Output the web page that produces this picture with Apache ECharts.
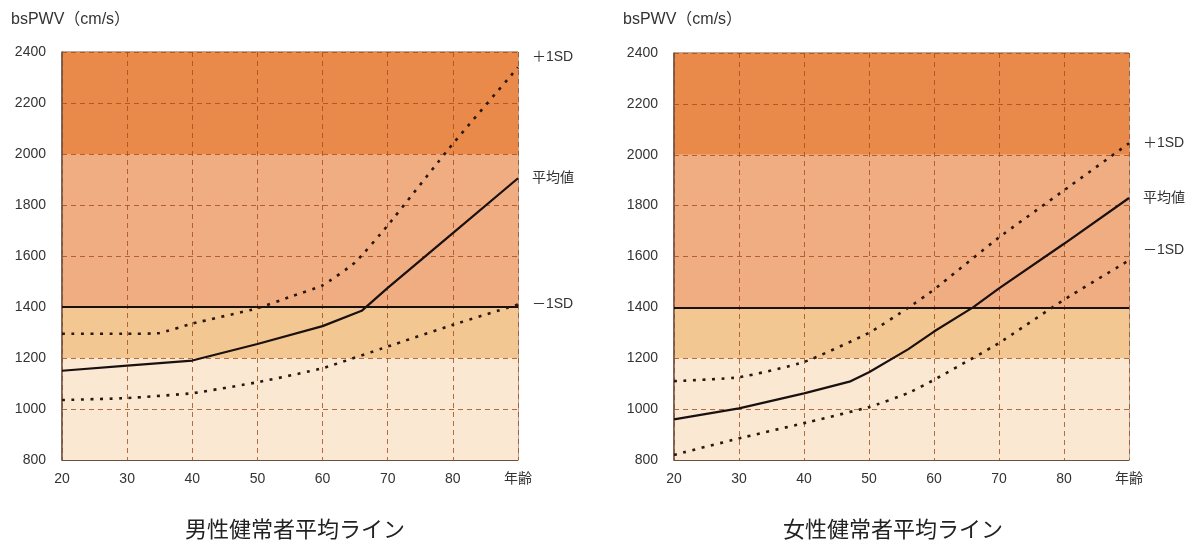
<!DOCTYPE html>
<html><head><meta charset="utf-8">
<script src="https://cdn.jsdelivr.net/npm/echarts@6/dist/echarts.min.js"></script>
<style>html,body{margin:0;padding:0;background:#fff}#c{width:1191px;height:544px}</style>
</head><body><div id="c"></div>
<script>
// ---- data ----
const yTicks = [800,1000,1200,1400,1600,1800,2000,2200,2400];
const xTicks = [20,30,40,50,60,70,80,90];
const xLastLabel = '年齢';
const yName = 'bsPWV（cm/s）';
const titles = ['男性健常者平均ライン','女性健常者平均ライン'];
const seriesNames = ['＋1SD','平均値','－1SD'];
const bands = [[800,1200],[1200,1400],[1400,2000],[2000,2400]];
const threshold = 1400;

const maleMeanAge = [20,30,40,50,60,66,70,80,90];
const maleMeanVal = [1150,1170,1190,1255,1325,1385,1475,1690,1905];
const maleP1Age = [20,30,35,40,50,55,60,65,70,80,90];
const maleP1Val = [1295,1295,1298,1335,1395,1440,1485,1575,1720,2040,2340];
const maleM1Age = [20,30,40,50,60,70,80,90];
const maleM1Val = [1035,1043,1062,1105,1160,1245,1330,1410];

const femMeanAge = [20,30,40,47,50,56,60,66,70,80,90];
const femMeanVal = [960,1003,1062,1108,1145,1235,1305,1400,1475,1650,1830];
const femP1Age = [20,30,40,50,56,60,70,80,90];
const femP1Val = [1110,1125,1185,1300,1398,1470,1675,1860,2045];
const femM1Age = [20,30,40,50,56,60,70,80,90];
const femM1Val = [820,885,945,1008,1063,1115,1260,1430,1585];

// ---- styles ----
const bandColors = ['#FAE8D2','#F3C792','#F0AD82','#E98A4A'];
const font = "'Liberation Sans','Noto Sans CJK JP',sans-serif";
const jpFont = "'Noto Sans CJK JP',sans-serif";
const zip = (a,b) => a.map((v,i)=>[v,b[i]]);

const grids = [
  {left:62, right:673, top:52, bottom:84},
  {left:674, right:62, top:53, bottom:84}
];
const labelOffsets = [
  [[0,-10],[0,0],[0,0]],
  [[0,0],[0,0],[0,-10]]
];
const datasets = [
  [zip(maleP1Age,maleP1Val), zip(maleMeanAge,maleMeanVal), zip(maleM1Age,maleM1Val)],
  [zip(femP1Age,femP1Val), zip(femMeanAge,femMeanVal), zip(femM1Age,femM1Val)]
];

const gridLine = {show:true,lineStyle:{color:'rgba(165,75,25,0.8)',type:[5,4],width:1}};

const option = {
  animation:false,
  title: [
    {text:yName, left:6, top:7, textStyle:{fontFamily:font,fontSize:16,fontWeight:'normal',color:'#333'}},
    {text:yName, left:618, top:7, textStyle:{fontFamily:font,fontSize:16,fontWeight:'normal',color:'#333'}},
    {text:titles[0], left:290, top:513, textAlign:'center', textStyle:{fontFamily:jpFont,fontSize:22,fontWeight:'normal',color:'#222'}},
    {text:titles[1], left:888, top:513, textAlign:'center', textStyle:{fontFamily:jpFont,fontSize:22,fontWeight:'normal',color:'#222'}}
  ],
  grid: grids.map(g=>Object.assign({show:true,borderColor:'#6e5040',borderWidth:1,backgroundColor:'transparent'},g)),
  xAxis: [0,1].map(i=>({
    type:'value', gridIndex:i, min:xTicks[0], max:xTicks[xTicks.length-1], interval:10, z:3,
    axisLine:{show:true,lineStyle:{color:'#6e5040',width:1}}, axisTick:{show:false},
    axisLabel:{fontFamily:font,fontSize:14,color:'#333',margin:12,
      formatter:v=>v===xTicks[xTicks.length-1]?xLastLabel:String(v)},
    splitLine:gridLine
  })),
  yAxis: [0,1].map(i=>({
    type:'value', gridIndex:i, min:yTicks[0], max:yTicks[yTicks.length-1], interval:200, z:3,
    axisLine:{show:true,lineStyle:{color:'#6e5040',width:1.5}}, axisTick:{show:false},
    axisLabel:{fontFamily:font,fontSize:14,color:'#333',margin:16,formatter:v=>String(v)},
    splitLine:gridLine
  })),
  series: []
};

[0,1].forEach(gi=>{
  option.series.push({
    type:'line', xAxisIndex:gi, yAxisIndex:gi, data:[], silent:true, z:1,
    markArea:{silent:true, data: bands.map((b,k)=>[{yAxis:b[0],itemStyle:{color:bandColors[k]}},{yAxis:b[1]}])}
  });
  option.series.push({
    type:'line', xAxisIndex:gi, yAxisIndex:gi, data:[], silent:true, z:4,
    markLine:{silent:true, symbol:'none', label:{show:false},
      lineStyle:{color:'#1a1010',width:2,type:'solid'}, data:[{yAxis:threshold}]}
  });
  datasets[gi].forEach((d,si)=>{
    const solid = si===1;
    option.series.push({
      type:'line', name:seriesNames[si], xAxisIndex:gi, yAxisIndex:gi, data:d, z:5,
      showSymbol:false, smooth:solid?0:0.15,
      lineStyle: solid ? {color:'#1a1010',width:2.2} : {color:'#2a1810',width:2.6,type:[3,6.5]},
      endLabel:{show:true, formatter:seriesNames[si], distance:14, offset:labelOffsets[gi][si],
        fontFamily:font, fontSize:14, color:'#333'}
    });
  });
});

const chart = echarts.init(document.getElementById('c'));
chart.setOption(option);
</script></body></html>
